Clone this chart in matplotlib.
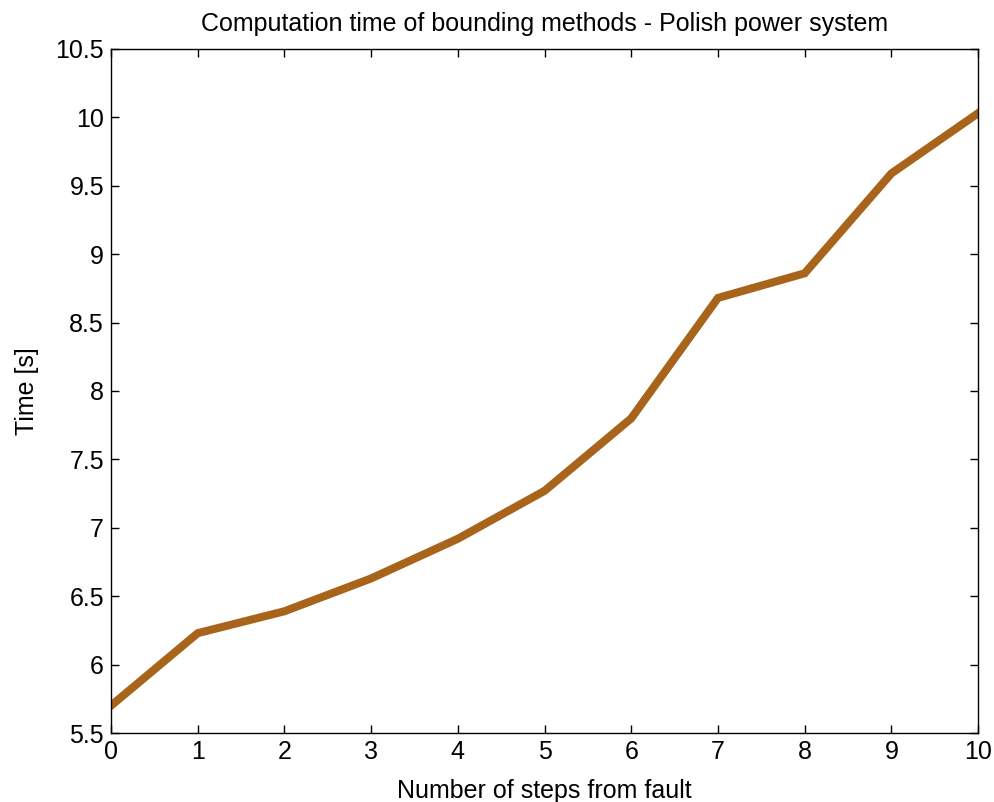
import matplotlib
matplotlib.use('Agg')
import matplotlib.pyplot as plt

steps = [0, 1, 2, 3, 4, 5, 6, 7, 8, 9, 10]
times = [5.70, 6.23, 6.39, 6.63, 6.92, 7.27, 7.80, 8.68, 8.86, 9.59, 10.03]

plt.rcParams.update({'font.family': ['Liberation Sans', 'DejaVu Sans'], 'font.size': 18})

fig = plt.figure(figsize=(9.95, 8.02), dpi=100)
ax = fig.add_axes([0.1116, 0.086, 0.8714, 0.853])

ax.plot(steps, times, color='#a8641a', lw=5.8, solid_joinstyle='miter')

ax.set_xlim(0, 10)
ax.set_ylim(5.5, 10.5)
ax.set_xticks(range(0, 11))
yt = [5.5 + 0.5 * i for i in range(11)]
ax.set_yticks(yt)
ax.set_yticklabels([f'{v:g}' for v in yt])
ax.tick_params(direction='in', length=6, width=1, top=True, right=True, pad=5)
for s in ax.spines.values():
    s.set_linewidth(1)

ax.set_xlabel('Number of steps from fault', labelpad=11)
ax.set_ylabel('Time [s]', labelpad=12)
ax.set_title('Computation time of bounding methods - Polish power system', fontsize=18, pad=13)

fig.savefig('out.png', dpi=100)
